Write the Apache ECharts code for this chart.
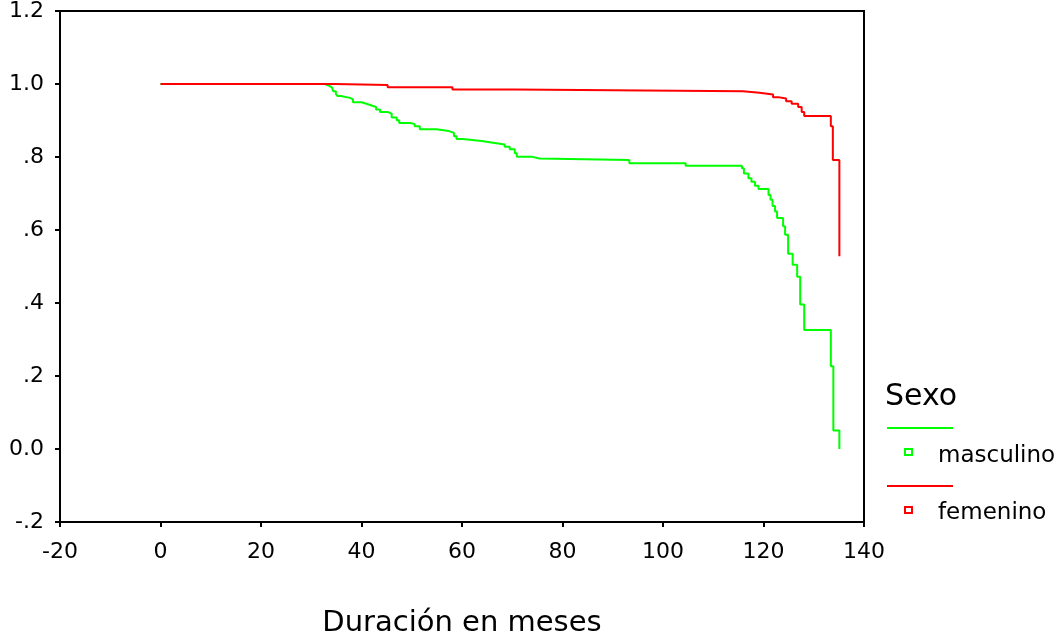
<!DOCTYPE html>
<html>
<head>
    <meta charset="utf-8">
    <script src="https://cdn.jsdelivr.net/npm/echarts@6/dist/echarts.min.js"></script>
</head>
<body style="margin:0;background:#fff">
    <div id="main" style="width:1064px;height:637px"></div>
    <script type="text/javascript">
        // Kaplan-Meier steps: [time (meses), survival after the event]
        var femenino = [
            [0, 1.0], [34.7, 0.997], [45.2, 0.991], [58.1, 0.985], [70.5, 0.980],
            [115.9, 0.976], [119.2, 0.971], [121.9, 0.964], [122.9, 0.960], [124.5, 0.953],
            [125.6, 0.946], [126.9, 0.937], [127.6, 0.923], [128.1, 0.912], [133.4, 0.884],
            [133.8, 0.792], [135.1, 0.528]
        ];
        var masculino = [
            [0, 1.0], [32.7, 0.996], [33.4, 0.991], [34.1, 0.987], [34.4, 0.980],
            [34.9, 0.973], [35.2, 0.967], [35.9, 0.962], [37.7, 0.958], [38.3, 0.950],
            [40.0, 0.946], [41.0, 0.941], [42.0, 0.937], [42.9, 0.930], [43.7, 0.923],
            [45.3, 0.919], [46.0, 0.908], [47.0, 0.901], [47.5, 0.893], [49.7, 0.890],
            [50.6, 0.884], [51.6, 0.876], [54.9, 0.871], [57.4, 0.866], [58.4, 0.857],
            [58.9, 0.849], [60.2, 0.844], [63.9, 0.839], [66.2, 0.834], [68.5, 0.828],
            [69.5, 0.821], [70.5, 0.810], [70.9, 0.801], [73.8, 0.796], [75.4, 0.792],
            [93.3, 0.783], [104.5, 0.776], [115.7, 0.769], [116.1, 0.755], [117.0, 0.742],
            [117.6, 0.732], [118.3, 0.721], [119.0, 0.712], [121.0, 0.696], [121.4, 0.683],
            [121.8, 0.666], [122.3, 0.651], [122.7, 0.633], [123.9, 0.610], [124.3, 0.587],
            [124.9, 0.535], [125.8, 0.505], [126.7, 0.472], [127.3, 0.396], [128.1, 0.326],
            [133.4, 0.227], [133.9, 0.051], [135.1, 0.0]
        ];
        var yTicks = [-0.2, 0, 0.2, 0.4, 0.6, 0.8, 1.0, 1.2];
        var yLabels = ['-.2', '0.0', '.2', '.4', '.6', '.8', '1.0', '1.2'];
        var legendTitle = 'Sexo';
        var seriesNames = ['masculino', 'femenino'];
        var seriesColors = ['#00ff00', '#ff0000'];

        var font = 'DejaVu Sans';
        var myChart = echarts.init(document.getElementById('main'));
        var option = {
            animation: false,
            backgroundColor: '#fff',
            grid: {
                left: 60, top: 11, right: 200, bottom: 115,
                containLabel: false, outerBoundsMode: 'none',
                show: true, borderColor: '#000', borderWidth: 2, backgroundColor: 'transparent'
            },
            xAxis: {
                type: 'value', min: -20, max: 140, interval: 20,
                name: 'Duración en meses', nameLocation: 'middle', nameGap: 87,
                nameTextStyle: { fontFamily: font, fontSize: 29, color: '#000' },
                axisLine: { onZero: false, lineStyle: { color: '#000', width: 2 } },
                axisTick: { length: 5, lineStyle: { color: '#000', width: 2 } },
                axisLabel: { margin: 19, fontFamily: font, fontSize: 22, color: '#000' },
                splitLine: { show: false }
            },
            yAxis: {
                type: 'value', min: yTicks[0], max: yTicks[yTicks.length - 1], interval: 0.2,
                axisLine: { show: true, onZero: false, lineStyle: { color: '#000', width: 2 } },
                axisTick: { show: true, length: 5, lineStyle: { color: '#000', width: 2 } },
                axisLabel: {
                    margin: 16, fontFamily: font, fontSize: 22, color: '#000',
                    formatter: function (v) {
                        for (var i = 0; i < yTicks.length; i++) {
                            if (Math.abs(yTicks[i] - v) < 1e-6) return yLabels[i];
                        }
                        return '';
                    }
                },
                splitLine: { show: false }
            },
            series: [masculino, femenino].map(function (d, i) {
                return {
                    name: seriesNames[i], type: 'line', step: 'end', data: d,
                    showSymbol: false, symbol: 'none',
                    lineStyle: { color: seriesColors[i], width: 2 },
                    itemStyle: { color: seriesColors[i] }
                };
            }),
            graphic: [
                { type: 'text', left: 885, top: 382, style: { text: legendTitle, font: '30px "DejaVu Sans"', fill: '#000' } },
                { type: 'line', shape: { x1: 887, y1: 428, x2: 953, y2: 428 }, style: { stroke: seriesColors[0], lineWidth: 2 } },
                { type: 'rect', shape: { x: 905, y: 449, width: 7, height: 6 }, style: { stroke: seriesColors[0], fill: '#fff', lineWidth: 2 } },
                { type: 'text', left: 938, top: 445, style: { text: seriesNames[0], font: '23px "DejaVu Sans"', fill: '#000' } },
                { type: 'line', shape: { x1: 887, y1: 486, x2: 953, y2: 486 }, style: { stroke: seriesColors[1], lineWidth: 2 } },
                { type: 'rect', shape: { x: 905, y: 507, width: 7, height: 6 }, style: { stroke: seriesColors[1], fill: '#fff', lineWidth: 2 } },
                { type: 'text', left: 938, top: 502, style: { text: seriesNames[1], font: '23px "DejaVu Sans"', fill: '#000' } }
            ]
        };
        myChart.setOption(option);
    </script>
</body>
</html>
